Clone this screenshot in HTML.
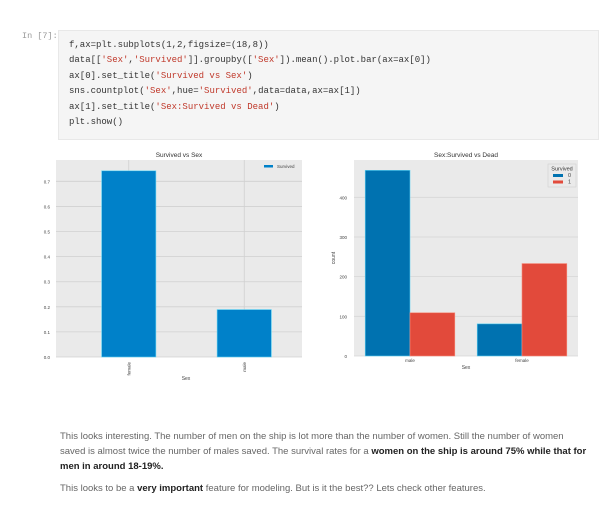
<!DOCTYPE html>
<html><head><meta charset="utf-8"><style>
body{margin:0;width:606px;height:510px;background:#fff;position:relative;overflow:hidden;font-family:"Liberation Sans",sans-serif}
.prompt{position:absolute;left:22px;top:31px;font:8.5px "Liberation Mono",monospace;color:#999}
.cell{position:absolute;left:58px;top:30px;width:539px;height:108px;background:#f5f5f5;border:1px solid #e8e8e8}
.code{position:absolute;left:69px;top:38px;font:9px/15.4px "Liberation Mono",monospace;color:#333;white-space:pre}
.s{color:#c0392b}
.txt{position:absolute;left:60px;top:429px;width:530px;font-size:9.5px;line-height:15px;color:#666}
.txt b{color:#222}
.txt p{margin:0 0 7px}
svg{position:absolute;left:0;top:0}
</style></head><body>
<div class="prompt">In [7]:</div>
<div class="cell"></div>
<div class="code">f,ax=plt.subplots(1,2,figsize=(18,8))
data[[<span class="s">'Sex'</span>,<span class="s">'Survived'</span>]].groupby([<span class="s">'Sex'</span>]).mean().plot.bar(ax=ax[0])
ax[0].set_title(<span class="s">'Survived vs Sex'</span>)
sns.countplot(<span class="s">'Sex'</span>,hue=<span class="s">'Survived'</span>,data=data,ax=ax[1])
ax[1].set_title(<span class="s">'Sex:Survived vs Dead'</span>)
plt.show()</div>
<svg id="ch" width="606" height="510"></svg>
<div class="txt">
<p>This looks interesting. The number of men on the ship is lot more than the number of women. Still the number of women saved is almost twice the number of males saved. The survival rates for a <b>women on the ship is around 75% while that for men in around 18-19%.</b></p>
<p>This looks to be a <b>very important</b> feature for modeling. But is it the best?? Lets check other features.</p>
</div>
<script>
const cats1=['female','male'];
const vals1=[0.742,0.189];
const ticks1=[0,0.1,0.2,0.3,0.4,0.5,0.6,0.7];
const cats2=['male','female'];
const died=[468,81];
const survived=[109,233];
const ticks2=[0,100,200,300,400];
const NS='http://www.w3.org/2000/svg';
const svg=document.getElementById('ch');
function el(t,a,txt){const e=document.createElementNS(NS,t);for(const k in a)e.setAttribute(k,a[k]);if(txt!==undefined)e.textContent=txt;svg.appendChild(e);return e;}
// chart 1
const L={bg:56,x0:71,x1:302,y0:357,y1:160,max:0.785};
const y1=v=>L.y0-(v/L.max)*(L.y0-L.y1);
const bw1=(L.x1-L.x0)/cats1.length;
const x1=i=>L.x0+bw1*(i+0.5);
let r=el('rect',{x:L.bg,y:L.y1,width:L.x1-L.bg,height:L.y0-L.y1,fill:'#eaeaea'});

ticks1.forEach(t=>{let g=el('line',{x1:L.bg,x2:L.x1,y1:y1(t),y2:y1(t),stroke:'#d0d0d0','stroke-width':0.8});

let l=el('text',{x:L.bg-6,y:y1(t)+2,'font-size':4.5,'text-anchor':'end',fill:'#444'},t.toFixed(1));
});
cats1.forEach((c,i)=>{let g=el('line',{x1:x1(i),x2:x1(i),y1:L.y1,y2:L.y0,stroke:'#d0d0d0','stroke-width':0.8});
});
vals1.forEach((v,i)=>{let b=el('rect',{x:x1(i)-bw1*0.235,y:y1(v),width:bw1*0.47,height:L.y0-y1(v),fill:'#0081c9',stroke:'#5fd3f3','stroke-width':0.6});

let t=el('text',{x:x1(i)+1.5,y:L.y0+5,'font-size':4.5,'text-anchor':'end',fill:'#444',transform:`rotate(-90 ${x1(i)+1.5} ${L.y0+5})`},cats1[i]);
});
let tt=el('text',{x:(L.bg+L.x1)/2,y:157,'font-size':6.5,'text-anchor':'middle',fill:'#333'},'Survived vs Sex');

let xl=el('text',{x:186,y:380,'font-size':5,'text-anchor':'middle',fill:'#444'},'Sex');

let lg=el('rect',{x:264,y:165,width:9,height:2.5,fill:'#0081c9'});
let lt=el('text',{x:277,y:168,'font-size':4.5,fill:'#444'},'Survived');
// chart 2
const R={x0:354,x1:578,y0:356,y1:160,max:494};
const y2=v=>R.y0-(v/R.max)*(R.y0-R.y1);
const bw2=(R.x1-R.x0)/cats2.length;
const x2=i=>R.x0+bw2*(i+0.5);
r=el('rect',{x:R.x0,y:R.y1,width:R.x1-R.x0,height:R.y0-R.y1,fill:'#eaeaea'});

ticks2.forEach(t=>{let g=el('line',{x1:R.x0,x2:R.x1,y1:y2(t),y2:y2(t),stroke:'#d6d6d6','stroke-width':0.8});

let l=el('text',{x:R.x0-7,y:y2(t)+2,'font-size':4.5,'text-anchor':'end',fill:'#444'},t);
});
const hw=bw2*0.4;
cats2.forEach((c,i)=>{
let a=el('rect',{x:x2(i)-hw,y:y2(died[i]),width:hw,height:R.y0-y2(died[i]),fill:'#0072b0',stroke:'#5fd3f3','stroke-width':0.6});

let b=el('rect',{x:x2(i),y:y2(survived[i]),width:hw,height:R.y0-y2(survived[i]),fill:'#e24a3b',stroke:'#f58a7a','stroke-width':0.6});

let t=el('text',{x:x2(i),y:R.y0+6,'font-size':4.5,'text-anchor':'middle',fill:'#444'},c);
});
tt=el('text',{x:(R.x0+R.x1)/2,y:157,'font-size':6.5,'text-anchor':'middle',fill:'#333'},'Sex:Survived vs Dead');

xl=el('text',{x:(R.x0+R.x1)/2,y:369,'font-size':5,'text-anchor':'middle',fill:'#444'},'Sex');

let yl=el('text',{x:335,y:258,'font-size':5,'text-anchor':'middle',fill:'#444',transform:'rotate(-90 335 258)'},'count');

let lb=el('rect',{x:548,y:164,width:28,height:23,fill:'#eaeaea',stroke:'#ccc','stroke-width':0.5});
let lh=el('text',{x:562,y:170.5,'font-size':5.5,'text-anchor':'middle',fill:'#333'},'Survived');
[['0','#0072b0',177],['1','#e24a3b',183.5]].forEach(([n,c,y])=>{
let s=el('rect',{x:553,y:y-3,width:10,height:3,fill:c});
let t=el('text',{x:568,y:y,'font-size':5.5,fill:'#444'},n);});
</script>
</body></html>
